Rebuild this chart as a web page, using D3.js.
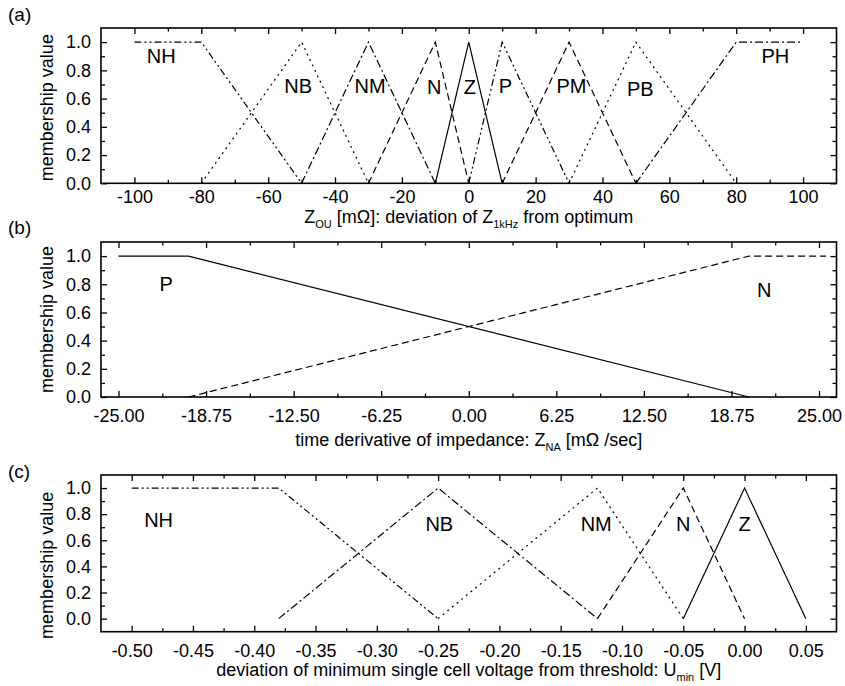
<!DOCTYPE html>
<html>
<head>
<meta charset="utf-8">
<script src="https://cdn.jsdelivr.net/npm/d3@7"></script>
<style>
body { margin: 0; background: #fff; }
svg text { font-family: "Liberation Sans", Arial, sans-serif; fill: #000; }
</style>
</head>
<body>
<div id="chart"></div>
<script>
(function() {
"use strict";

// panel (a): impedance deviation Z_OU
var aNames = ["NH", "NB", "NM", "N", "Z", "P", "PM", "PB", "PH"];
var aX = [[-100, -80, -50], [-80, -50, -30], [-50, -30, -10], [-30, -10, 0], [-10, 0, 10],
          [0, 10, 30], [10, 30, 50], [30, 50, 80], [50, 80, 100]];
var aY = [[1, 1, 0], [0, 1, 0], [0, 1, 0], [0, 1, 0], [0, 1, 0],
          [0, 1, 0], [0, 1, 0], [0, 1, 0], [0, 1, 1]];
var aLabelX = [-92, -51, -29.5, -10.3, 0.3, 11, 30.7, 51.3, 91.7];
var aLabelY = [0.85, 0.64, 0.64, 0.63, 0.63, 0.64, 0.64, 0.62, 0.85];
var aTicks = [-100, -80, -60, -40, -20, 0, 20, 40, 60, 80, 100];
var aMinor = [-90, -70, -50, -30, -10, 10, 30, 50, 70, 90];

// panel (b): time derivative Z_NA
var bNames = ["P", "N"];
var bX = [[-25, -20, 20], [-20, 20, 25.5]];
var bY = [[1, 1, 0], [0, 1, 1]];
var bLabelX = [-21.6, 21.1];
var bLabelY = [0.75, 0.71];
var bTicks = [-25, -18.75, -12.5, -6.25, 0, 6.25, 12.5, 18.75, 25];
var bMinor = [-21.875, -15.625, -9.375, -3.125, 3.125, 9.375, 15.625, 21.875];

// panel (c): minimum cell voltage deviation U_min
var cNames = ["NH", "NB", "NM", "N", "Z"];
var cX = [[-0.5, -0.38, -0.25], [-0.38, -0.25, -0.12], [-0.25, -0.12, -0.05], [-0.12, -0.05, 0], [-0.05, 0, 0.05]];
var cY = [[1, 1, 0], [0, 1, 0], [0, 1, 0], [0, 1, 0], [0, 1, 0]];
var cLabelX = [-0.478, -0.249, -0.121, -0.05, 0];
var cLabelY = [0.70, 0.67, 0.67, 0.67, 0.67];
var cTicks = [-0.5, -0.45, -0.4, -0.35, -0.3, -0.25, -0.2, -0.15, -0.1, -0.05, 0, 0.05];
var cMinor = [-0.475, -0.425, -0.375, -0.325, -0.275, -0.225, -0.175, -0.125, -0.075, -0.025, 0.025];

var yTicks = [0, 0.2, 0.4, 0.6, 0.8, 1.0];
var yMinor = [0.1, 0.3, 0.5, 0.7, 0.9];

// dash patterns
var SOLID = null, DASH = "7,4", DOT = "2,4", DASHDOT = "8,3,2,3", DASHDOTDOT = "7,3,2,3,2,3";

var width = 845, height = 686;
var left = 101, right = 836.5;
var fs = 18; //text size for ticks and titles

var svg = d3.select("#chart").append("svg")
    .attr("width", width)
    .attr("height", height);

function fmtMinus(f) { //use plain hyphen like the original figure
    return function(d) { return f(d).replace("\u2212", "-"); };
}

function panel(p) {
    var x = d3.scaleLinear().domain(p.xDomain).range([left, right]);
    var y = d3.scaleLinear().domain(p.yDomain).range([p.bottom, p.top]);
    var g = svg.append("g");

    // ticks on all four sides, pointing in
    function axis(gen, scale, vals, size, fmt, tx, ty) {
        var ax = gen(scale).tickValues(vals).tickSize(size).tickPadding(6);
        ax.tickFormat(fmt || "");
        var a = g.append("g").attr("transform", "translate(" + tx + "," + ty + ")").call(ax);
        a.select(".domain").remove();
        a.selectAll("line").attr("stroke", "#000").attr("stroke-width", 1.3);
        a.selectAll("text").attr("font-size", fs).attr("font-family", null);
        return a;
    }
    axis(d3.axisBottom, x, p.xTicks, -6, fmtMinus(p.xFmt), 0, p.bottom)
        .selectAll("text").attr("y", p.tickBase).attr("dy", 0);
    axis(d3.axisBottom, x, p.xMinor, -3.5, null, 0, p.bottom);
    axis(d3.axisTop, x, p.xTicks, -6, null, 0, p.top);
    axis(d3.axisTop, x, p.xMinor, -3.5, null, 0, p.top);
    axis(d3.axisLeft, y, yTicks, -6, d3.format(".1f"), left, 0).selectAll("text").attr("dx", "-4");
    axis(d3.axisLeft, y, yMinor, -4, null, left, 0);
    axis(d3.axisRight, y, yTicks, -6, null, right, 0);
    axis(d3.axisRight, y, yMinor, -4, null, right, 0);

    g.append("rect")
        .attr("x", left).attr("y", p.top)
        .attr("width", right - left).attr("height", p.bottom - p.top)
        .attr("fill", "none").attr("stroke", "#000").attr("stroke-width", 1.6);

    var line = d3.line()
        .x(function(d) { return x(d[0]); })
        .y(function(d) { return y(d[1]); });

    p.names.forEach(function(name, i) {
        var pts = d3.zip(p.xs[i], p.ys[i]);
        g.append("path")
            .attr("d", line(pts))
            .attr("fill", "none")
            .attr("stroke", "#000")
            .attr("stroke-width", 1.2)
            .attr("stroke-dasharray", p.dash[i]);
        g.append("text")
            .attr("x", x(p.lx[i]))
            .attr("y", y(p.ly[i]))
            .attr("text-anchor", "middle")
            .attr("font-size", 20)
            .text(name);
    });

    // y axis title
    var cy = (p.top + p.bottom) / 2 + (p.yLabOff || 0);
    g.append("text")
        .attr("transform", "translate(53," + cy + ") rotate(-90)")
        .attr("text-anchor", "middle")
        .attr("font-size", fs)
        .text("membership value");

    // x axis title with subscripts
    var t = g.append("text")
        .attr("x", (left + right) / 2)
        .attr("y", p.titleY)
        .attr("text-anchor", "middle")
        .attr("font-size", fs);
    p.title.forEach(function(part) {
        var s = t.append("tspan").text(part[0]);
        if (part[1]) s.attr("font-size", 11).attr("dy", 5);
        else if (part[2]) s.attr("dy", -5);
    });

    svg.append("text")
        .attr("x", 8).attr("y", p.tagY)
        .attr("font-size", 19)
        .text(p.tag);
}

panel({
    tag: "(a)", tagY: 21,
    top: 28, bottom: 183.3, xDomain: [-110, 110], yDomain: [0, 1.1],
    xTicks: aTicks, xMinor: aMinor, xFmt: d3.format("d"), tickBase: 20,
    names: aNames, xs: aX, ys: aY, lx: aLabelX, ly: aLabelY,
    dash: [DASHDOTDOT, DOT, DASHDOT, DASH, SOLID, DASHDOTDOT, DASH, DOT, DASHDOT],
    titleY: 223, yLabOff: 2,
    title: [["Z"], ["OU", true], [" [m\u03A9]: deviation of Z", false, true], ["1kHz", true], [" from optimum", false, true]]
});

panel({
    tag: "(b)", tagY: 234,
    top: 242, bottom: 397, xDomain: [-26.25, 26.25], yDomain: [0, 1.1],
    xTicks: bTicks, xMinor: bMinor, xFmt: d3.format(".2f"), tickBase: 25,
    names: bNames, xs: bX, ys: bY, lx: bLabelX, ly: bLabelY,
    dash: [SOLID, DASH],
    titleY: 446,
    title: [["time derivative of impedance: Z"], ["NA", true], [" [m\u03A9 /sec]", false, true]]
});

panel({
    tag: "(c)", tagY: 478,
    top: 475, bottom: 631.7, xDomain: [-0.525, 0.075], yDomain: [-0.1, 1.1],
    xTicks: cTicks, xMinor: cMinor, xFmt: d3.format(".2f"), tickBase: 25,
    names: cNames, xs: cX, ys: cY, lx: cLabelX, ly: cLabelY,
    dash: [DASHDOTDOT, DASHDOT, DOT, DASH, SOLID],
    titleY: 676, yLabOff: 12,
    title: [["deviation of minimum single cell voltage from threshold: U"], ["min", true], [" [V]", false, true]]
});

})();
</script>
</body>
</html>
